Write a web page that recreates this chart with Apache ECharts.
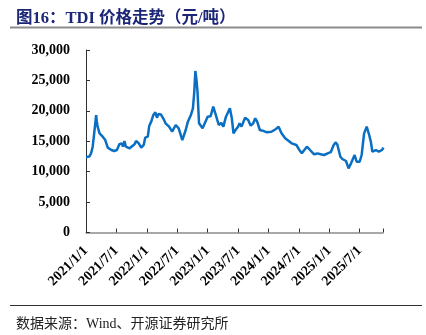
<!DOCTYPE html>
<html>
<head>
<meta charset="utf-8">
<script src="https://cdn.jsdelivr.net/npm/echarts@6/dist/echarts.min.js"></script>
<style>
html,body{margin:0;padding:0;background:#fff;}
#c{width:426px;height:335px;}
</style>
</head>
<body>
<div id="c"></div>
<script>
const titleText = '图16：TDI 价格走势（元/吨）';
const sourceText = '数据来源：Wind、开源证券研究所';
const yTicks = [0, 5000, 10000, 15000, 20000, 25000, 30000];
const xTickLabels = ['2021/1/1','2021/7/1','2022/1/1','2022/7/1','2023/1/1','2023/7/1','2024/1/1','2024/7/1','2025/1/1','2025/7/1'];
const dates = [
'2021-01-01','2021-01-08','2021-01-22','2021-02-01','2021-02-10','2021-02-19','2021-03-01','2021-03-05','2021-03-10','2021-03-22','2021-04-01','2021-04-10','2021-04-25','2021-05-10','2021-05-20','2021-06-01','2021-06-18','2021-07-04','2021-07-19','2021-08-04','2021-08-10','2021-08-19','2021-08-28','2021-09-08','2021-09-19','2021-09-28','2021-10-19','2021-10-28','2021-11-13','2021-11-28','2021-12-13','2021-12-22',
'2022-01-07','2022-01-16','2022-01-28','2022-02-09','2022-02-20','2022-03-01','2022-03-10','2022-03-25','2022-04-13','2022-04-22','2022-05-13','2022-06-01','2022-06-22','2022-07-10','2022-08-01','2022-08-22','2022-09-04','2022-09-22','2022-10-04','2022-10-12','2022-10-19','2022-10-26','2022-11-01','2022-11-10','2022-12-01','2022-12-07',
'2023-01-01','2023-01-19','2023-02-04','2023-02-18','2023-03-07','2023-03-22','2023-04-04','2023-04-19','2023-05-13','2023-05-25','2023-06-04','2023-06-16','2023-07-01','2023-07-10','2023-07-22','2023-08-13','2023-09-01','2023-09-16','2023-10-01','2023-10-13','2023-10-25','2023-11-10','2023-12-01','2023-12-22',
'2024-01-19','2024-02-15','2024-03-01','2024-03-19','2024-04-10','2024-05-01','2024-05-19','2024-06-16','2024-07-04','2024-07-19','2024-08-19','2024-09-07','2024-10-01','2024-10-22','2024-11-10','2024-12-01','2024-12-22',
'2025-01-10','2025-01-28','2025-02-09','2025-02-18','2025-03-07','2025-03-19','2025-04-10','2025-04-25','2025-05-10','2025-06-01','2025-06-13','2025-07-01','2025-07-13','2025-07-28','2025-08-13','2025-08-28','2025-09-07','2025-09-16','2025-10-07','2025-10-25','2025-11-13','2025-11-22'
];
const prices = [
12400,12450,12500,13000,14100,16500,19300,18300,17400,16300,16000,15750,15200,13950,13700,13560,13400,13560,14500,14660,14100,15040,14100,13900,13840,13560,14500,15040,14660,13950,14400,15590,
15750,17560,18220,19320,19760,18870,19480,19400,18500,17950,17400,16570,17670,17130,15200,16850,18220,19320,20410,23000,26550,25000,23150,17950,17130,17000,
19040,19100,20690,19320,17670,18000,17400,19000,20410,18770,16300,16850,17400,17950,17400,18870,18500,17560,17950,18770,18220,16850,16700,16470,
16570,17020,17400,16300,15490,15040,14660,14390,13560,13020,14100,13560,12860,13000,12860,12740,13000,
13200,14390,14830,14390,12460,12080,11750,10550,11370,12740,11640,11640,12740,16300,17400,16030,14930,13280,13560,13280,13560,13950
];

function toMonths(s){
  const p = s.split('-').map(Number);
  const dim = new Date(p[0], p[1], 0).getDate();
  return (p[0]-2021)*12 + (p[1]-1) + (p[2]-1)/dim;
}
const seriesData = dates.map((d,i)=>[toMonths(d), prices[i]]);

const chart = echarts.init(document.getElementById('c'), null, {renderer:'canvas'});
const serif = '"Liberation Serif","Times New Roman",serif';
const cjk = '"Liberation Serif","Noto Sans CJK SC",serif';
chart.setOption({
  animation:false,
  backgroundColor:'#fff',
  title:[{
    text: titleText, left: 11, top: 5,
    textStyle:{fontFamily:cjk, fontSize:16.5, fontWeight:'bold', color:'#1c2677'}
  },{
    text: sourceText, left: 11, top: 312,
    textStyle:{fontFamily:cjk, fontSize:14, fontWeight:'normal', color:'#222'}
  }],
  graphic:[
    {type:'line', shape:{x1:10,y1:27.5,x2:422,y2:27.5}, style:{stroke:'#8c8c8c', lineWidth:2}},
    {type:'line', shape:{x1:10,y1:305.5,x2:422,y2:305.5}, style:{stroke:'#333', lineWidth:1}}
  ],
  grid:{left:86, right:43, top:50, bottom:102.5, containLabel:false},
  xAxis:{
    type:'value', min:0, max:58.6, interval:6,
    axisLine:{show:true, lineStyle:{color:'#8c8c8c', width:1.5}},
    axisTick:{show:true, inside:true, length:4, lineStyle:{color:'#333'}},
    splitLine:{show:false},
    axisLabel:{
      rotate:45, margin:16, fontFamily:serif, fontSize:14, fontWeight:'bold', color:'#000',
      formatter:function(v){ const i = Math.round(v/6); return (Math.abs(v-i*6)<1e-6 && xTickLabels[i]) ? xTickLabels[i] : ''; }
    }
  },
  yAxis:{
    type:'value', min:yTicks[0], max:yTicks[yTicks.length-1], interval:yTicks[1]-yTicks[0],
    axisLine:{show:true, lineStyle:{color:'#333', width:1}},
    axisTick:{show:true, inside:true, length:4, lineStyle:{color:'#333'}},
    splitLine:{show:false},
    axisLabel:{margin:16, fontFamily:serif, fontSize:14, fontWeight:'bold', color:'#000',
      formatter:function(v){ return v.toLocaleString('en-US'); }}
  },
  series:[{
    type:'line', data:seriesData, showSymbol:false, smooth:false,
    lineStyle:{color:'#0a6fc2', width:2.5}
  }]
});
</script>
</body>
</html>
